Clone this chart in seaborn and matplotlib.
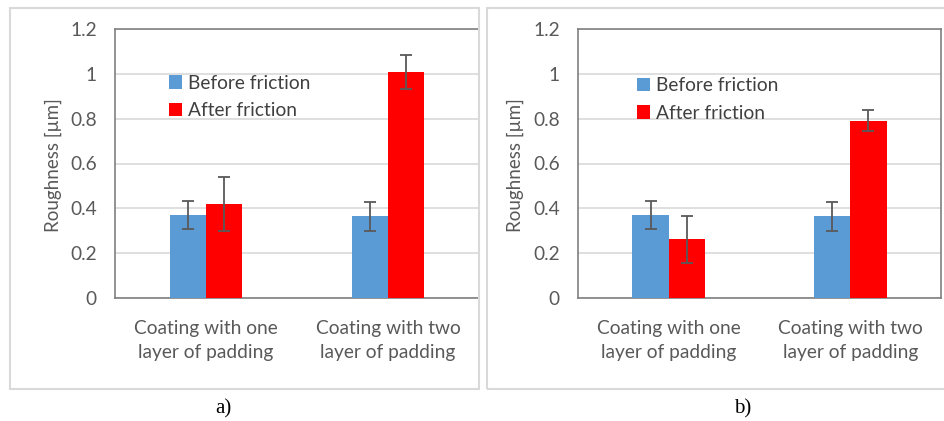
import numpy as np
import pandas as pd
import matplotlib
matplotlib.use("Agg")
import matplotlib.pyplot as plt
import seaborn as sns
from matplotlib.patches import Rectangle, Patch

# ---------------- data ----------------
categories = ["Coating with one\nlayer of padding", "Coating with two\nlayer of padding"]
series = ["Before friction", "After friction"]
before_a = [0.37, 0.365]
after_a = [0.42, 1.01]
before_a_err = [0.062, 0.065]
after_a_err = [0.12, 0.076]
before_b = [0.37, 0.365]
after_b = [0.263, 0.79]
before_b_err = [0.062, 0.065]
after_b_err = [0.105, 0.047]
yticks = [0, 0.2, 0.4, 0.6, 0.8, 1.0, 1.2]
ytick_labels = ["0", "0.2", "0.4", "0.6", "0.8", "1", "1.2"]
ylabel = "Roughness [\u00b5m]"
panel_labels = ["a)", "b)"]

colors = {"Before friction": "#5B9BD5", "After friction": "#FF0000"}

sns.set_style("white")
plt.rcParams["font.family"] = ["Lato", "DejaVu Sans"]

W, H = 944, 421
fig = plt.figure(figsize=(W / 100, H / 100), dpi=100)
fig.patch.set_facecolor("white")


def fx(px):
    return px / W


def fy(py):
    return 1 - py / H


# outer frames
for (x0, y0, x1, y1) in [(10, 8, 479, 389), (487, 8, 946, 389)]:
    fig.patches.append(Rectangle((fx(x0), fy(y1)), fx(x1 - x0), (y1 - y0) / H,
                                 transform=fig.transFigure, fill=False,
                                 edgecolor="#d9d9d9", linewidth=1.5, zorder=0))

panels = [
    dict(before=before_a, after=after_a, be=before_a_err, ae=after_a_err,
         rect=(115, 29, 479, 298), leg=(0.148, 0.83), ylx=-0.146, lab_x=223, right_spine=False),
    dict(before=before_b, after=after_b, be=before_b_err, ae=after_b_err,
         rect=(578, 29, 941, 298), leg=(0.162, 0.821), ylx=-0.149, lab_x=743, right_spine=True),
]

for i, p in enumerate(panels):
    x0, y0, x1, y1 = p["rect"]
    ax = fig.add_axes([fx(x0), fy(y1), (x1 - x0) / W, (y1 - y0) / H])
    df = pd.DataFrame({
        "category": categories * 2,
        "series": [series[0]] * 2 + [series[1]] * 2,
        "value": list(p["before"]) + list(p["after"]),
    })
    errs = {series[0]: p["be"], series[1]: p["ae"]}
    sns.barplot(data=df, x="category", y="value", hue="series", order=categories,
                hue_order=series, palette=colors, width=0.4, errorbar=None,
                legend=False, ax=ax, saturation=1, linewidth=0, zorder=3)
    for s, cont in zip(series, ax.containers):
        xs = [b.get_x() + b.get_width() / 2 for b in cont]
        ys = [b.get_height() for b in cont]
        ax.errorbar(xs, ys, yerr=errs[s], fmt="none", ecolor="#595959",
                    elinewidth=1.3, capsize=4.5, capthick=1.3, zorder=4)
    ax.set_ylim(0, 1.2)
    ax.set_xlim(-0.5, 1.5)
    ax.set_yticks(yticks)
    ax.set_yticklabels(ytick_labels)
    ax.yaxis.grid(True, color="#d9d9d9", linewidth=1.2, zorder=0)
    ax.set_axisbelow(True)
    ax.tick_params(axis="both", length=0, labelsize=13.8, labelcolor="#595959")
    ax.tick_params(axis="y", pad=13)
    ax.tick_params(axis="x", pad=16)
    for lbl in ax.get_xticklabels():
        lbl.set_linespacing(1.45)
    ax.set_xlabel("")
    ax.set_ylabel(ylabel, fontsize=13.5, color="#595959")
    ax.yaxis.set_label_coords(p["ylx"], 0.494)
    for side in ["left", "top", "bottom", "right"]:
        ax.spines[side].set_color("#808080")
        ax.spines[side].set_linewidth(1.2)
    ax.spines["right"].set_visible(p["right_spine"])
    handles = [Patch(facecolor=colors[s], edgecolor="none") for s in series]
    ax.legend(handles, series, loc="upper left", bbox_to_anchor=p["leg"],
              frameon=False, fontsize=13.8, handlelength=0.7, handleheight=0.7,
              handletextpad=0.3, labelspacing=0.55, borderpad=0, borderaxespad=0,
              labelcolor="#404040")
    fig.text(fx(p["lab_x"]), fy(409), panel_labels[i], family="Liberation Serif",
             fontsize=15, ha="center", va="center", color="black")

fig.savefig("out.png", dpi=100, facecolor="white")
